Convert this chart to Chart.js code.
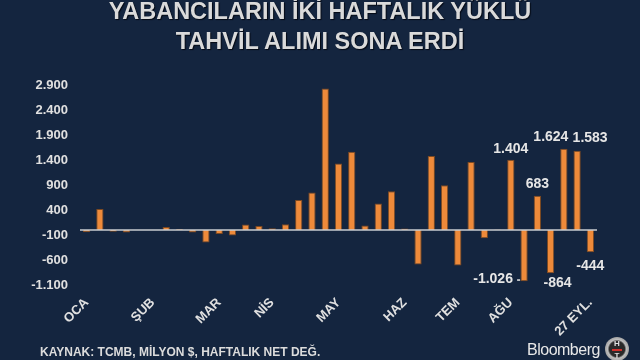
<!DOCTYPE html>
<html>
<head>
<meta charset="utf-8">
<script src="https://cdn.jsdelivr.net/npm/chart.js@4/dist/chart.umd.min.js"></script>
<style>
  body { margin: 0; background: #14253f; }
  #wrap { position: relative; width: 640px; height: 360px; overflow: hidden; background: #14253f; }
  #title {
    position: absolute; top: -4px; left: 0; width: 640px; text-align: center;
    font: bold 23.5px "Liberation Sans", Arial, sans-serif; line-height: 30px;
    color: #dadada; text-shadow: 1px 1px 1px #050a14;
  }
  #source {
    position: absolute; left: 40px; top: 345px;
    font: bold 12px "Liberation Sans", Arial, sans-serif; line-height: 14px; color: #dcdcdc;
  }
  #brand {
    position: absolute; left: 527px; top: 340px;
    font: 16px "Liberation Sans", Arial, sans-serif; line-height: 20px; letter-spacing: -0.5px; color: #e8e8e8;
  }
  #logo {
    position: absolute; left: 605px; top: 337px; width: 24px; height: 24px; border-radius: 50%;
    background: radial-gradient(circle, #2a2a2a 45%, #bfbfbf 55%, #6d6d6d 100%);
    font: bold 8px "Liberation Sans", Arial, sans-serif; color: #e0e0e0; text-align: center; line-height: 8px;
  }
  #logo span { display: block; }
  #logo .h { margin-top: 3px; }
  #logo .bar { height: 2px; background: #d0302c; margin: 1px 7px; }
  canvas { position: absolute; left: 0; top: 0; }
</style>
</head>
<body>
<div id="wrap">
  <canvas id="flow-chart" width="640" height="360"></canvas>
  <div id="title">YABANCILARIN İKİ HAFTALIK YÜKLÜ<br>TAHVİL ALIMI SONA ERDİ</div>
  <div id="source">KAYNAK: TCMB, MİLYON $, HAFTALIK NET DEĞ.</div>
  <div id="brand">Bloomberg</div>
  <div id="logo"><span class="h">H</span><span class="bar"></span><span>T</span></div>
</div>
<script>
// weekly labels (only month starts shown)
const weekLabels = ["OCA", "", "", "", "", "ŞUB", "", "", "", "", "MAR", "", "", "", "NİS", "", "", "", "",
  "MAY", "", "", "", "", "HAZ", "", "", "", "TEM", "", "", "", "AĞU", "", "", "", "", "", "27 EYL."];

// weekly net bond flows, million $
const flows = [-45, 420, -35, -50, 0, 0, 60, 20, -50, -250, -80, -110, 110, 80, 35, 115, 600, 750,
  2830, 1330, 1565, 90, 530, 775, 30, -690, 1480, 895, -710, 1360, -165, 10,
  1404, -1026, 683, -864, 1624, 1583, -444];

// y axis range
const yMin = -1100;
const yMax = 2900;
const yStep = 500;

// bars that get a value label
const labelledFrom = 32;
// label nudges [dx, dy] from bar end
const labelOffsets = {
  32: [0, -11], 33: [-31, -2], 34: [0, -12], 35: [7, 10],
  36: [-13, -12], 37: [13, -13], 38: [0, 14]
};

// turkish number format: 1.404 / -1.026
function fmt(v) {
  const s = String(Math.abs(v)).replace(/\B(?=(\d{3})+(?!\d))/g, ".");
  return (v < 0 ? "-" : "") + s;
}

const zeroLine = {
  id: "zeroLine",
  afterDatasetsDraw(chart) {
    const { ctx, chartArea, scales } = chart;
    const y = scales.y.getPixelForValue(0);
    ctx.save();
    ctx.strokeStyle = "#c9ccd2";
    ctx.lineWidth = 1.5;
    ctx.beginPath();
    ctx.moveTo(chartArea.left, y);
    ctx.lineTo(chartArea.right, y);
    ctx.stroke();
    ctx.restore();
  }
};

const valueLabels = {
  id: "valueLabels",
  afterDraw(chart) {
    const { ctx } = chart;
    const meta = chart.getDatasetMeta(0);
    ctx.save();
    ctx.font = "bold 14px 'Liberation Sans', Arial, sans-serif";
    ctx.fillStyle = "#e6e6e6";
    ctx.textAlign = "center";
    ctx.textBaseline = "middle";
    for (let i = labelledFrom; i < flows.length; i++) {
      const bar = meta.data[i];
      const off = labelOffsets[i] || [0, 0];
      ctx.fillText(fmt(flows[i]), bar.x + off[0], bar.y + off[1]);
      if (i === 33) {
        // little leader dash
        ctx.fillRect(bar.x - 7, bar.y - 2, 3, 1.5);
      }
    }
    ctx.restore();
  }
};

const ctxFlow = document.getElementById("flow-chart");
new Chart(ctxFlow, {
  type: "bar",
  data: {
    labels: weekLabels,
    datasets: [
      {
        label: "Net",
        data: flows,
        backgroundColor: "#ee8a3a",
        borderColor: "#7d4a22",
        borderWidth: 1,
        barPercentage: 0.55,
        categoryPercentage: 1.0,
      },
    ],
  },
  options: {
    responsive: false,
    animation: false,
    layout: { padding: { top: 85, right: 43, bottom: 0, left: 0 } },
    plugins: {
      legend: { display: false },
      tooltip: { enabled: false },
    },
    scales: {
      x: {
        grid: { display: false, drawTicks: false },
        border: { display: false },
        ticks: {
          autoSkip: false,
          maxRotation: 45,
          minRotation: 45,
          padding: 10,
          color: "#e0e0e0",
          font: { family: "'Liberation Sans', Arial, sans-serif", size: 13, weight: "bold" },
        },
        afterFit(scale) { scale.height = 75; },
      },
      y: {
        min: yMin,
        max: yMax,
        grid: { display: false, drawTicks: false },
        border: { display: false },
        ticks: {
          stepSize: yStep,
          padding: 12,
          color: "#e0e0e0",
          font: { family: "'Liberation Sans', Arial, sans-serif", size: 13, weight: "bold" },
          callback: (v) => fmt(v),
        },
        afterFit(scale) { scale.width = 80; },
      },
    },
  },
  plugins: [zeroLine, valueLabels],
});
</script>
</body>
</html>
